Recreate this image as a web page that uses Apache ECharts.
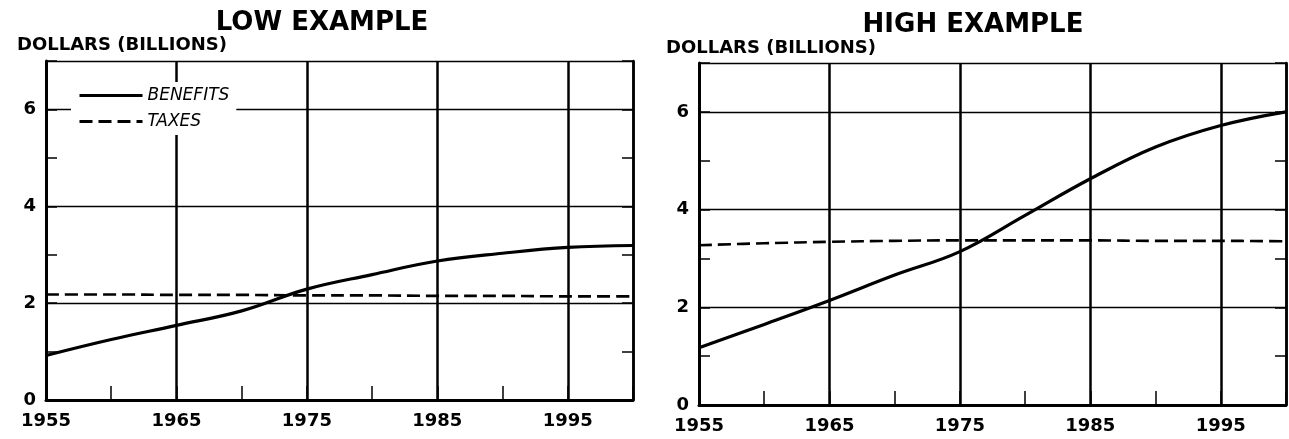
<!DOCTYPE html>
<html>
<head>
<meta charset="utf-8">
<title>Low / High example</title>
<script src="https://cdn.jsdelivr.net/npm/echarts@6/dist/echarts.min.js"></script>
<style>
  html, body { margin: 0; padding: 0; background: #fff; }
  #chart { width: 1289px; height: 439px; }
</style>
</head>
<body>
<div id="chart"></div>
<script>
// values (dollars, billions)
const years = [1955, 1960, 1965, 1970, 1975, 1980, 1985, 1990, 1995, 2000]
const lowBenefits = [0.92, 1.25, 1.54, 1.84, 2.29, 2.59, 2.87, 3.03, 3.15, 3.19]
const lowTaxes = [2.18, 2.18, 2.17, 2.17, 2.16, 2.16, 2.15, 2.15, 2.14, 2.14]
const highBenefits = [1.17, 1.65, 2.14, 2.66, 3.14, 3.88, 4.63, 5.28, 5.72, 6.0]
const highTaxes = [3.27, 3.31, 3.34, 3.36, 3.37, 3.37, 3.37, 3.36, 3.36, 3.35]
const yLabels = [0, 2, 4, 6]
const titles = ['LOW EXAMPLE', 'HIGH EXAMPLE']
const yName = 'DOLLARS (BILLIONS)'

const FONT = 'DejaVu Sans'
const INK = '#000'

function pairs(xs, ys) {
  return xs.map((x, i) => [x, ys[i]])
}

// 2 x-axes and 3 y-axes per grid: ticks/labels, gridlines, and the frame
function axesFor(g) {
  const x = [
    {
      type: 'value', gridIndex: g, min: 1955, max: 2000, interval: 5,
      axisLine: { show: true, lineStyle: { color: INK, width: 3 } },
      axisTick: { show: true, inside: true, length: 14, lineStyle: { color: INK, width: 1.5 } },
      axisLabel: {
        color: INK, fontFamily: FONT, fontWeight: 'bold', fontSize: 18, margin: 12,
        formatter: v => ((v - 1955) % 10 === 0 && v < 2000) ? String(v) : ''
      },
      splitLine: { show: false }
    },
    {
      // offset axis (years since 1955) only used to place the decade gridlines
      type: 'value', gridIndex: g, min: 0, max: 45, interval: 10, position: 'top',
      axisLine: { show: true, lineStyle: { color: INK, width: 2 } },
      axisTick: { show: false },
      axisLabel: { show: false },
      splitLine: { show: true, lineStyle: { color: INK, width: 2.5 } }
    }
  ]
  const y = [
    {
      type: 'value', gridIndex: g, min: 0, max: 7, interval: 1, position: 'left',
      axisLine: { show: true, lineStyle: { color: INK, width: 3 } },
      axisTick: { show: true, inside: true, length: 11, lineStyle: { color: INK, width: 1.5 } },
      axisLabel: {
        color: INK, fontFamily: FONT, fontWeight: 'bold', fontSize: 18, margin: 10,
        formatter: v => yLabels.indexOf(v) >= 0 ? String(v) : ''
      },
      splitLine: { show: false }
    },
    {
      type: 'value', gridIndex: g, min: 0, max: 7, interval: 2,
      axisLine: { show: false }, axisTick: { show: false }, axisLabel: { show: false },
      splitLine: { show: true, lineStyle: { color: INK, width: 1.3 } }
    },
    {
      type: 'value', gridIndex: g, min: 0, max: 7, interval: 1, position: 'right',
      axisLine: { show: true, lineStyle: { color: INK, width: 2.5 } },
      axisTick: { show: true, inside: true, length: 11, lineStyle: { color: INK, width: 1.5 } },
      axisLabel: { show: false },
      splitLine: { show: false }
    }
  ]
  return { x, y }
}

function seriesFor(g, benefits, taxes) {
  return [
    {
      name: 'BENEFITS', type: 'line', xAxisIndex: g * 2, yAxisIndex: g * 3,
      data: pairs(years, benefits), smooth: 0.4, symbol: 'none',
      lineStyle: { color: INK, width: 3.2 }, itemStyle: { color: INK },
      z: 5
    },
    {
      name: 'TAXES', type: 'line', xAxisIndex: g * 2, yAxisIndex: g * 3,
      data: pairs(years, taxes), smooth: 0.4, symbol: 'none',
      lineStyle: { color: INK, width: 2.6, type: [13, 6] }, itemStyle: { color: INK },
      z: 5
    }
  ]
}

function textEl(str, x, y, size, align) {
  return {
    type: 'text', x: x, y: y, z: 10,
    style: {
      text: str, fill: INK, font: 'bold ' + size + 'px "' + FONT + '"',
      align: align, verticalAlign: 'middle',
      textAlign: align, textVerticalAlign: 'middle'
    }
  }
}

const left = axesFor(0)
const right = axesFor(1)

const option = {
  backgroundColor: '#fff',
  animation: false,
  grid: [
    { left: 46, top: 61, width: 587, height: 339 },
    { left: 699, top: 63, width: 588, height: 342 }
  ],
  xAxis: left.x.concat(right.x),
  yAxis: left.y.concat(right.y),
  legend: {
    data: ['BENEFITS', 'TAXES'],
    orient: 'vertical',
    left: 71, top: 82,
    padding: [5, 7],
    itemGap: 9,
    itemWidth: 63, itemHeight: 14,
    itemStyle: { opacity: 0 },
    lineStyle: { width: 3 },
    backgroundColor: '#fff',
    textStyle: { color: INK, fontFamily: FONT, fontStyle: 'italic', fontSize: 17 }
  },
  graphic: [
    textEl(titles[0], 322, 23, 26, 'center'),
    textEl(titles[1], 973, 25, 26, 'center'),
    textEl(yName, 17, 45, 18, 'left'),
    textEl(yName, 666, 48, 18, 'left')
  ],
  series: seriesFor(0, lowBenefits, lowTaxes).concat(seriesFor(1, highBenefits, highTaxes))
}

const chart = echarts.init(document.getElementById('chart'))
chart.setOption(option)
</script>
</body>
</html>
